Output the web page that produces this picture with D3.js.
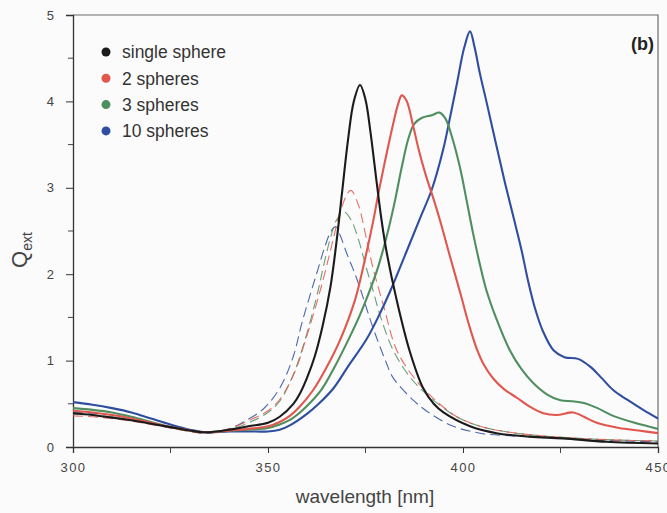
<!DOCTYPE html>
<html>
<head>
<meta charset="utf-8">
<script src="https://cdn.jsdelivr.net/npm/d3@7"></script>
<style>
  html, body { margin: 0; padding: 0; background: #fbfbfb; }
  svg { display: block; font-family: "Liberation Sans", Arial, sans-serif; }
</style>
</head>
<body>
<svg id="chart" width="667" height="513"></svg>
<script>
// Extinction efficiency Q_ext versus wavelength (nm) for sphere chains.
// Solid curves: full calculation; dashed curves: approximate model.

const seriesNames = ["single sphere", "2 spheres", "3 spheres", "10 spheres"];
const seriesColors = ["#1b1b1b", "#e0574e", "#4f8e5f", "#2f4e9f"];

const singleSphere = [
  [300,0.39],[305,0.37],[310,0.34],[315,0.31],[320,0.27],[325,0.23],[330,0.19],[334,0.17],
  [340,0.20],[345,0.24],[350,0.28],[353,0.35],[356.5,0.50],[358.2,0.62],[360,0.80],[362,1.05],
  [364,1.40],[366,1.85],[367.5,2.35],[369,2.95],[370.5,3.55],[372,4.00],[373.6,4.19],
  [375,4.02],[376.2,3.67],[377.9,3.05],[379.1,2.63],[380.4,2.26],[383,1.70],[386.4,1.10],
  [389.8,0.68],[392.5,0.50],[395,0.40],[401.8,0.24],[408.6,0.16],[417,0.12],[425.6,0.10],
  [436.8,0.06],[450,0.04]
];

const twoSpheres = [
  [300,0.42],[305,0.40],[310,0.37],[315,0.33],[320,0.28],[325,0.23],[330,0.19],[334,0.17],
  [340,0.19],[345,0.21],[350,0.24],[353,0.29],[355.6,0.36],[358,0.46],[361.6,0.66],[365,0.92],
  [368.5,1.24],[372.3,1.70],[374.9,2.18],[377,2.62],[378.5,2.98],[380.2,3.35],[382,3.72],
  [383.3,3.96],[384.3,4.07],[385.5,4.01],[387.3,3.70],[388.6,3.45],[390.3,3.17],[392.8,2.82],
  [394.5,2.56],[396.2,2.28],[399.5,1.75],[401.5,1.42],[403.5,1.14],[405.5,0.94],[407.8,0.79],
  [410.5,0.67],[413.8,0.57],[417,0.47],[420.6,0.39],[424,0.37],[428.3,0.40],[431,0.35],
  [434.3,0.28],[440,0.22],[445,0.19],[450,0.16]
];

const threeSpheres = [
  [300,0.45],[305,0.43],[310,0.40],[315,0.35],[320,0.29],[325,0.23],[330,0.19],[334,0.17],
  [340,0.19],[345,0.20],[350,0.22],[353,0.26],[355.5,0.31],[358.2,0.40],[361,0.52],[363.8,0.67],
  [367,0.92],[370.6,1.24],[373.5,1.52],[376,1.80],[378,2.05],[379.5,2.28],[381,2.54],
  [382.6,2.86],[384.3,3.24],[386,3.57],[387.5,3.74],[389.5,3.81],[392,3.84],[394,3.87],
  [395.5,3.80],[397.1,3.60],[399.2,3.24],[400.9,2.86],[402.6,2.47],[404.4,2.10],[406.1,1.80],
  [408.6,1.48],[412,1.12],[415,0.90],[418,0.74],[421.5,0.61],[425,0.54],[428,0.53],[431,0.51],
  [434.5,0.45],[438.5,0.36],[444,0.28],[450,0.21]
];

const tenSpheres = [
  [300,0.52],[305,0.49],[310,0.45],[315,0.40],[320,0.33],[325,0.26],[330,0.20],[334,0.17],
  [340,0.18],[345,0.18],[350,0.18],[353,0.20],[355.6,0.25],[359.9,0.38],[363,0.50],[366.8,0.68],
  [370.5,0.93],[375.3,1.25],[378,1.48],[381.3,1.80],[385.5,2.26],[389,2.65],[392,2.98],
  [394.9,3.44],[396.7,3.82],[398.5,4.22],[400.3,4.62],[401.8,4.81],[403,4.62],[404.3,4.33],
  [406.1,3.98],[408.5,3.50],[410.8,3.05],[413,2.65],[415,2.28],[416.7,1.92],[418.5,1.60],
  [420.5,1.34],[423.2,1.12],[426,1.04],[429.5,1.02],[432.6,0.93],[435.5,0.80],[438.5,0.66],
  [442,0.55],[446.2,0.43],[450,0.33]
];

const twoSpheresDashed = [
  [300,0.36],[305,0.35],[310,0.33],[315,0.30],[320,0.26],[325,0.22],[330,0.18],[334,0.16],
  [340,0.21],[346.2,0.33],[350,0.42],[353,0.55],[356.9,0.87],[359.5,1.22],[362.7,1.70],
  [364.2,1.95],[365.5,2.18],[366.8,2.42],[368.9,2.78],[371.2,2.97],[373.2,2.80],[374.9,2.48],
  [377,2.06],[379.6,1.64],[383,1.12],[387.3,0.81],[391.5,0.60],[398.4,0.35],[404.4,0.24],
  [412,0.17],[420,0.13],[430,0.10],[440,0.08],[450,0.07]
];

const threeSpheresDashed = [
  [300,0.38],[305,0.37],[310,0.35],[315,0.31],[320,0.27],[325,0.22],[330,0.18],[334,0.16],
  [340,0.20],[346,0.30],[350,0.40],[353,0.53],[356.5,0.84],[359.5,1.24],[362.9,1.82],
  [364.2,2.09],[365.9,2.40],[367.6,2.63],[369.5,2.72],[371.4,2.62],[373.2,2.40],[375.3,2.06],
  [377,1.80],[378.7,1.53],[382.1,1.12],[386.4,0.81],[390.7,0.61],[398,0.36],[404.4,0.24],
  [412,0.17],[420,0.13],[430,0.10],[440,0.08],[450,0.07]
];

const tenSpheresDashed = [
  [300,0.40],[305,0.39],[310,0.37],[315,0.33],[320,0.28],[325,0.23],[330,0.19],[334,0.16],
  [340,0.21],[344.5,0.31],[348.8,0.44],[353,0.68],[356.5,1.05],[358.6,1.42],[361.2,1.82],
  [362.9,2.07],[364.6,2.32],[366.2,2.50],[367.4,2.55],[368.5,2.45],[370.2,2.24],[371.9,2.05],
  [373.6,1.84],[375.3,1.60],[377.4,1.32],[380.2,0.99],[382.1,0.80],[387.3,0.54],[391.5,0.39],
  [397.5,0.24],[404.4,0.16],[412,0.13],[421.5,0.11],[435,0.08],[450,0.06]
];

const xTicks = [300, 350, 400, 450];
const xMinorTicks = [325, 375, 425];
const yTicks = [0, 1, 2, 3, 4, 5];
const yMinorTicks = [0.5, 1.5, 2.5, 3.5, 4.5];

const svg = d3.select("#chart");
const margin = { left: 73, right: 9, top: 15, bottom: 66 };
const W = 667, H = 513;

const x = d3.scaleLinear().domain([300, 450]).range([margin.left, W - margin.right]);
const y = d3.scaleLinear().domain([0, 5]).range([H - margin.bottom, margin.top]);

svg.append("defs").append("clipPath").attr("id", "plot-clip")
  .append("rect")
  .attr("x", x(300)).attr("y", y(5))
  .attr("width", x(450) - x(300)).attr("height", y(0) - y(5));

// frame: top and right borders
svg.append("path")
  .attr("d", `M${x(300)},${y(5)}H${x(450)}V${y(0)}`)
  .attr("fill", "none").attr("stroke", "#6a6a6a").attr("stroke-width", 1.2);

// x axis
const xAxis = svg.append("g").attr("transform", `translate(0,${y(0)})`)
  .call(d3.axisBottom(x).tickValues(xTicks).tickSize(6).tickPadding(10).tickFormat(d3.format("d")));
xAxis.append("g").selectAll("line").data(xMinorTicks).join("line")
  .attr("x1", d => x(d)).attr("x2", d => x(d)).attr("y1", 0).attr("y2", 6)
  .attr("stroke", "#444");

// y axis
const yAxis = svg.append("g").attr("transform", `translate(${x(300)},0)`)
  .call(d3.axisLeft(y).tickValues(yTicks).tickSize(7).tickPadding(12).tickFormat(d3.format("d")));
yAxis.append("g").selectAll("line").data(yMinorTicks).join("line")
  .attr("x1", 0).attr("x2", -5).attr("y1", d => y(d)).attr("y2", d => y(d))
  .attr("stroke", "#444");

[xAxis, yAxis].forEach(g => {
  g.select(".domain").attr("stroke", "#333").attr("stroke-width", 1.3);
  g.selectAll(".tick line").attr("stroke", "#333");
  g.selectAll(".tick text")
    .attr("fill", "#444").attr("font-size", 13)
    .attr("font-family", "Liberation Sans, Arial, sans-serif");
});
xAxis.selectAll(".tick text").attr("letter-spacing", 1.5);

// axis titles
svg.append("text")
  .attr("x", 365).attr("y", 503)
  .attr("text-anchor", "middle").attr("font-size", 19).attr("fill", "#444")
  .text("wavelength [nm]");

const yTitle = svg.append("text")
  .attr("transform", "translate(27,250) rotate(-90)")
  .attr("text-anchor", "middle").attr("fill", "#444");
yTitle.append("tspan").attr("font-size", 22).text("Q");
yTitle.append("tspan").attr("font-size", 14).attr("dy", 5).text("ext");

// curves
const line = d3.line()
  .x(d => x(d[0])).y(d => y(d[1]))
  .curve(d3.curveCatmullRom.alpha(0.5));

const plot = svg.append("g").attr("clip-path", "url(#plot-clip)");

const dashedSets = [
  { data: tenSpheresDashed, color: seriesColors[3] },
  { data: threeSpheresDashed, color: seriesColors[2] },
  { data: twoSpheresDashed, color: seriesColors[1] }
];
plot.selectAll("path.dashed").data(dashedSets).join("path")
  .attr("class", "dashed")
  .attr("d", d => line(d.data))
  .attr("fill", "none")
  .attr("stroke", d => d.color)
  .attr("stroke-width", 1.1)
  .attr("stroke-dasharray", "10,5")
  .attr("opacity", 0.85);

const solidSets = [
  { data: tenSpheres, color: seriesColors[3] },
  { data: threeSpheres, color: seriesColors[2] },
  { data: twoSpheres, color: seriesColors[1] },
  { data: singleSphere, color: seriesColors[0] }
];
plot.selectAll("path.solid").data(solidSets).join("path")
  .attr("class", "solid")
  .attr("d", d => line(d.data))
  .attr("fill", "none")
  .attr("stroke", d => d.color)
  .attr("stroke-width", 2.1)
  .attr("stroke-linejoin", "round");

// legend
const legend = svg.append("g").attr("transform", "translate(106,52)");
const rows = legend.selectAll("g").data(seriesNames).join("g")
  .attr("transform", (d, i) => `translate(0,${i * 26.3})`);
rows.append("circle").attr("r", 4.5).attr("fill", (d, i) => seriesColors[i]);
rows.append("text")
  .attr("x", 16).attr("dy", "0.36em")
  .attr("font-size", 17.5).attr("fill", "#333")
  .text(d => d);

// panel label
svg.append("text")
  .attr("x", 654).attr("y", 50)
  .attr("text-anchor", "end").attr("font-size", 18).attr("font-weight", "bold")
  .attr("fill", "#222")
  .text("(b)");
</script>
</body>
</html>
